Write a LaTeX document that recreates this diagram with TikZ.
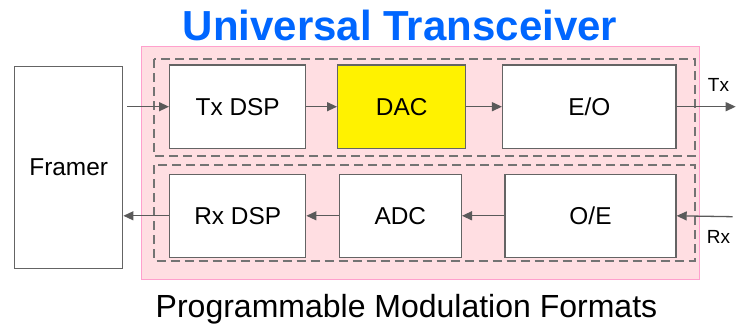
\documentclass[tikz,border=0pt]{standalone}
\usepackage{fontspec}
\setmainfont{Liberation Sans}
\usetikzlibrary{arrows.meta}
\definecolor{pinkfill}{RGB}{255,222,226}
\definecolor{pinkline}{RGB}{255,160,205}
\definecolor{boxline}{RGB}{100,100,100}
\definecolor{dashline}{RGB}{115,115,115}
\definecolor{arrowline}{RGB}{90,90,90}
\definecolor{titleblue}{RGB}{0,102,255}
\begin{document}
\begin{tikzpicture}[x=1pt,y=-1pt,
  blk/.style={draw=boxline,line width=1.4pt,fill=white,inner sep=0pt,font=\fontsize{24.4}{28}\selectfont},
  grp/.style={draw=dashline,line width=2pt,dash pattern=on 9pt off 5pt},
  conn/.style={draw=arrowline,line width=1.3pt,-{Triangle[length=10pt,width=9pt]}},
  lbl/.style={font=\fontsize{19}{22}\selectfont,inner sep=0pt}]
\useasboundingbox (0,0) rectangle (741,332);
% outer pink box
\path[fill=pinkfill,draw=pinkline,line width=1pt] (141.7,46.7) rectangle (699.3,279.3);
% dashed groups
\draw[grp] (154.3,59) rectangle (695,156);
\draw[grp] (154.3,165) rectangle (695,260.7);
% blocks
\node[blk,minimum width=108pt,minimum height=201.6pt] (framer) at (68.7,167.5) {Framer};
\node[blk,minimum width=136pt,minimum height=83.3pt] (txdsp) at (237.7,106.7) {Tx DSP};
\node[blk,fill=yellow,minimum width=128pt,minimum height=83.3pt] (dac) at (401.7,106.7) {DAC};
\node[blk,minimum width=173.3pt,minimum height=83.3pt] (eo) at (589.3,106.7) {E/O};
\node[blk,minimum width=136pt,minimum height=83pt] (rxdsp) at (237.7,215.8) {Rx DSP};
\node[blk,minimum width=122pt,minimum height=83pt] (adc) at (400.3,215.8) {ADC};
\node[blk,minimum width=171pt,minimum height=83pt] (oe) at (590.5,215.8) {O/E};
% free ends
\coordinate (txout) at (735.7,106.7);
\coordinate (rxin) at (732.7,216.7);
\coordinate (fin) at (127,106.7);
% connectors
\draw[conn] (fin) -- (txdsp.west);
\draw[conn] (txdsp.east) -- (dac.west);
\draw[conn] (dac.east) -- (eo.west);
\draw[conn] (eo.east) -- (txout);
\draw[conn] (rxin) -- (oe.east);
\draw[conn] (oe.west) -- (adc.east);
\draw[conn] (adc.west) -- (rxdsp.east);
\draw[conn] (rxdsp.west) -- (framer.east |- rxdsp.west);
% labels
\node[lbl] (txl) at (718.5,85) {Tx};
\node[lbl] (rxl) at (718.5,237) {Rx};
\node[font=\fontsize{42}{46}\bfseries\selectfont,text=titleblue,inner sep=0pt] (title) at (400,25) {Universal Transceiver};
\node[font=\fontsize{32}{36}\selectfont,inner sep=0pt] (sub) at (406.5,309) {Programmable Modulation Formats};
\end{tikzpicture}
\end{document}
